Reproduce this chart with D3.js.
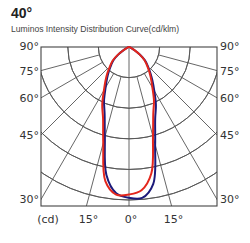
<!DOCTYPE html>
<html>
<head>
<meta charset="utf-8">
<script src="https://cdn.jsdelivr.net/npm/d3@7"></script>
<style>
  html, body { margin: 0; padding: 0; background: #fff; }
  svg { display: block; }
</style>
</head>
<body>
<script>
'use strict';

// angles from -90 (left) to 90 (right), 0 = straight down
const angles = [-90, -85, -80, -75, -70, -65, -60, -55, -50, -45, -40, -35, -30, -25, -20, -15, -10, -5,
    0, 5, 10, 15, 20, 25, 30, 35, 40, 45, 50, 55, 60, 65, 70, 75, 80, 85, 90];

// intensity values (cd/klm)
const redCd = [0, 0, 5, 10, 25, 50, 105, 225, 350, 435, 545, 670, 820, 1035, 1240, 1625, 2225, 2420,
    2410, 2350, 2100, 1515, 1160, 965, 765, 625, 510, 410, 325, 210, 100, 50, 25, 10, 5, 0, 0];
const blueCd = [0, 0, 5, 10, 25, 50, 100, 210, 325, 410, 510, 625, 765, 965, 1165, 1525, 2125, 2400,
    2465, 2475, 2275, 1650, 1250, 1040, 825, 665, 535, 430, 340, 220, 105, 50, 25, 10, 5, 0, 0];

const ringValues = [500, 1000, 1500, 2000, 2500];
const spokeAngles = [-75, -60, -45, -30, -15, 15, 30, 45, 60, 75];
const sideLabels = [90, 75, 60, 45, 30];
const bottomLabels = [-15, 0, 15];

const width = 250, height = 243;
const box = { left: 41, right: 217, top: 47, bottom: 206 };
const cx = (box.left + box.right) / 2, cy = box.top;
const halfW = (box.right - box.left) / 2;

const svg = d3.select('body').append('svg')
    .attr('width', width)
    .attr('height', height);

const rScale = d3.scaleLinear().domain([0, 500]).range([0, 30.6]);
const rad = (d) => d * Math.PI / 180;

// title
svg.append('text')
    .attr('x', 11).attr('y', 18)
    .style('font-family', 'Liberation Sans, Arial, sans-serif')
    .style('font-weight', 'bold')
    .style('font-size', '14px')
    .attr('fill', '#222')
    .text('40°');

svg.append('text')
    .attr('x', 11).attr('y', 32)
    .style('font-family', 'Liberation Sans, Arial, sans-serif')
    .style('font-size', '8.6px')
    .attr('fill', '#444')
    .text('Luminos Intensity Distribution Curve(cd/klm)');

svg.append('clipPath').attr('id', 'boxClip')
    .append('rect')
    .attr('x', box.left).attr('y', box.top)
    .attr('width', box.right - box.left).attr('height', box.bottom - box.top);

// clip on the outer group, translate on the inner one
const grid = svg.append('g')
    .attr('clip-path', 'url(#boxClip)')
    .append('g')
    .attr('transform', `translate(${cx},${cy})`)
    .attr('stroke', '#555')
    .attr('stroke-width', 0.9)
    .attr('fill', 'none');

// rings (lower half circles)
grid.selectAll('.ring')
    .data(ringValues)
    .enter()
    .append('path')
    .attr('d', (d) => d3.arc()({ innerRadius: rScale(d), outerRadius: rScale(d), startAngle: Math.PI / 2, endAngle: Math.PI * 1.5 }));

// spokes, starting at the first ring
grid.selectAll('.spoke')
    .data(spokeAngles)
    .enter()
    .append('line')
    .attr('x1', (d) => rScale(ringValues[0]) * Math.sin(rad(d)))
    .attr('y1', (d) => rScale(ringValues[0]) * Math.cos(rad(d)))
    .attr('x2', (d) => 400 * Math.sin(rad(d)))
    .attr('y2', (d) => 400 * Math.cos(rad(d)));

// 0 deg axis from the centre
grid.append('line')
    .attr('x1', 0).attr('y1', 0)
    .attr('x2', 0).attr('y2', box.bottom - cy);

// frame
svg.append('rect')
    .attr('x', box.left).attr('y', box.top)
    .attr('width', box.right - box.left).attr('height', box.bottom - box.top)
    .attr('fill', 'none')
    .attr('stroke', '#444')
    .attr('stroke-width', 1.1);

// curves
const points = (vals) => angles.map((a, i) => ({ a: a, v: vals[i] }));
const curve = d3.lineRadial()
    .angle((d) => Math.PI - rad(d.a))
    .radius((d) => rScale(d.v))
    .curve(d3.curveCatmullRom);

const curves = svg.append('g').attr('transform', `translate(${cx},${cy})`);
curves.append('path')
    .attr('d', curve(points(blueCd)))
    .attr('fill', 'none')
    .attr('stroke', '#1c1a7a')
    .attr('stroke-width', 2);
curves.append('path')
    .attr('d', curve(points(redCd)))
    .attr('fill', 'none')
    .attr('stroke', '#e3261c')
    .attr('stroke-width', 2);

// angle labels
const labelStyle = (sel) => sel
    .style('font-family', 'DejaVu Sans, sans-serif')
    .style('font-size', '11px')
    .attr('fill', '#333')
    .attr('dominant-baseline', 'middle');

function sideY(a) {
    if (a === 90) return cy;
    return Math.min(cy + halfW / Math.tan(rad(a)), box.bottom - 3) + 1;
}

labelStyle(svg.selectAll('.lLabel')
    .data(sideLabels)
    .enter()
    .append('text')
    .attr('x', box.left - 2)
    .attr('y', (d) => sideY(d))
    .attr('text-anchor', 'end')
    .text((d) => d + '°'));

labelStyle(svg.selectAll('.rLabel')
    .data(sideLabels)
    .enter()
    .append('text')
    .attr('x', box.right + 3)
    .attr('y', (d) => sideY(d))
    .attr('text-anchor', 'start')
    .text((d) => d + '°'));

labelStyle(svg.selectAll('.bLabel')
    .data(bottomLabels)
    .enter()
    .append('text')
    .attr('x', (d) => cx + (box.bottom - cy) * Math.tan(rad(d)) + 2)
    .attr('y', box.bottom + 14)
    .attr('text-anchor', 'middle')
    .text((d) => Math.abs(d) + '°'));

labelStyle(svg.append('text')
    .attr('x', 48)
    .attr('y', box.bottom + 14)
    .attr('text-anchor', 'middle')
    .text('(cd)'));
</script>
</body>
</html>
